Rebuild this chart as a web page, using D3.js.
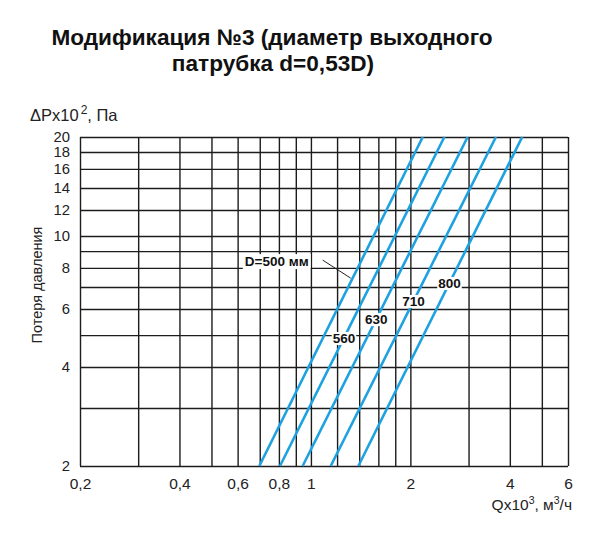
<!DOCTYPE html>
<html>
<head>
<meta charset="utf-8">
<script src="https://cdn.jsdelivr.net/npm/d3@7"></script>
<style>
  body { margin: 0; background: #fff; }
  svg { font-family: "Liberation Sans", Arial, sans-serif; }
</style>
</head>
<body>
<svg id="chart" width="600" height="539"></svg>
<script>
// grid and tick values (log-log)
var xGrid = [0.2, 0.3, 0.4, 0.5, 0.6, 0.7, 0.8, 0.9, 1, 1.2, 1.4, 1.6, 1.8, 2, 3, 4, 5, 6];
var xLabels = [0.2, 0.4, 0.6, 0.8, 1, 2, 4, 6];
var yGrid = [2, 3, 4, 5, 6, 7, 8, 9, 10, 12, 14, 16, 18, 20];
var yLabels = [2, 4, 6, 8, 10, 12, 14, 16, 18, 20];

// curves: flow (x10^3 m3/h) at dP = 2 and dP = 20 (x10^2 Pa)
var diameters = ['500', '560', '630', '710', '800'];
var qAtLow = [0.698, 0.806, 0.944, 1.148, 1.392];
var qAtHigh = [2.18, 2.534, 2.98, 3.63, 4.36];
var pLow = 2, pHigh = 20;

// dP at which each curve label sits
var labelP = [7.45, 4.9, 5.59, 6.35, 7.2];

var svg = d3.select('#chart');
var plotL = 80, plotR = 568, plotT = 137, plotB = 466;

var x = d3.scaleLog().domain([0.2, 6]).range([plotL, plotR]);
var y = d3.scaleLog().domain([2, 20]).range([plotB, plotT]);

var fmt = function (v) { return String(v).replace('.', ','); };

// title
var title = svg.append('text')
    .attr('text-anchor', 'middle')
    .attr('font-weight', 'bold')
    .attr('font-size', 22.6)
    .attr('fill', '#111');
title.append('tspan').attr('x', 272).attr('y', 45).text('Модификация №3 (диаметр выходного');
title.append('tspan').attr('x', 273).attr('y', 71).text('патрубка d=0,53D)');

// grid via axes
var xAxis = svg.append('g')
    .attr('transform', 'translate(0,' + plotB + ')')
    .call(d3.axisBottom(x)
        .tickValues(xGrid)
        .tickSize(-(plotB - plotT))
        .tickPadding(12)
        .tickFormat(function (d) { return xLabels.indexOf(d) >= 0 ? fmt(d) : ''; }));

var yAxis = svg.append('g')
    .attr('transform', 'translate(' + plotL + ',0)')
    .call(d3.axisLeft(y)
        .tickValues(yGrid)
        .tickSize(-(plotR - plotL))
        .tickPadding(10)
        .tickFormat(function (d) { return yLabels.indexOf(d) >= 0 ? fmt(d) : ''; }));

[xAxis, yAxis].forEach(function (g) {
    g.select('.domain').remove();
    g.selectAll('line').attr('stroke', '#1c1c1c').attr('stroke-width', 1.4);
    g.selectAll('text').attr('fill', '#222')
        .attr('font-family', '"Liberation Sans", Arial, sans-serif');
});
xAxis.selectAll('text').attr('font-size', 15.5);
yAxis.selectAll('text').attr('font-size', 14.8);

// curves
var curves = diameters.map(function (d, i) {
    return { name: d, pts: [[qAtLow[i], pLow], [qAtHigh[i], pHigh]] };
});

var line = d3.line()
    .x(function (p) { return x(p[0]); })
    .y(function (p) { return y(p[1]); });

svg.append('g').selectAll('path')
    .data(curves)
    .enter().append('path')
    .attr('d', function (c) { return line(c.pts); })
    .attr('fill', 'none')
    .attr('stroke', '#1da1e0')
    .attr('stroke-width', 2.6);

// q on curve i for a given dP
function qAt(i, p) {
    var t = Math.log(p / pLow) / Math.log(pHigh / pLow);
    return Math.exp(Math.log(qAtLow[i]) + t * Math.log(qAtHigh[i] / qAtLow[i]));
}

var labels = svg.append('g').attr('font-weight', 'bold').attr('font-size', 13.5).attr('fill', '#111');

curves.forEach(function (c, i) {
    var cx = x(qAt(i, labelP[i]));
    var cy = y(labelP[i]);
    if (i === 0) {
        // leader line to the first curve
        labels.append('line')
            .attr('x1', cx - 30).attr('y1', cy - 18)
            .attr('x2', cx - 2).attr('y2', cy)
            .attr('stroke', '#222').attr('stroke-width', 1);
        var t0 = labels.append('text')
            .attr('x', cx - 44).attr('y', cy - 12)
            .attr('text-anchor', 'end')
            .text('D=' + c.name + ' мм');
        var b0 = t0.node().getBBox();
        labels.insert('rect', 'text')
            .attr('x', b0.x - 2).attr('y', b0.y)
            .attr('width', b0.width + 4).attr('height', b0.height)
            .attr('fill', '#fff');
        return;
    }
    var t = labels.append('text')
        .attr('x', cx).attr('y', cy + 5)
        .attr('text-anchor', 'middle')
        .text(c.name);
    var b = t.node().getBBox();
    labels.insert('rect', 'text')
        .attr('x', b.x - 1).attr('y', b.y + 1)
        .attr('width', b.width + 2).attr('height', b.height - 2)
        .attr('fill', '#fff');
});

// axis titles
var yt = svg.append('text')
    .attr('x', 30).attr('y', 121)
    .attr('font-size', 16.5).attr('fill', '#222');
yt.append('tspan').text('ΔPx10');
yt.append('tspan').attr('font-size', 12).attr('dy', -7).attr('dx', 2).text('2');
yt.append('tspan').attr('dy', 7).text(', Па');

svg.append('text')
    .attr('transform', 'translate(42,285) rotate(-90)')
    .attr('text-anchor', 'middle')
    .attr('font-size', 14.5).attr('fill', '#222')
    .text('Потеря давления');

var xt = svg.append('text')
    .attr('x', 572).attr('y', 510)
    .attr('text-anchor', 'end')
    .attr('font-size', 15.5).attr('fill', '#222');
xt.append('tspan').text('Qx10');
xt.append('tspan').attr('font-size', 10.5).attr('dy', -6).text('3');
xt.append('tspan').attr('dy', 6).text(', м');
xt.append('tspan').attr('font-size', 10.5).attr('dy', -6).text('3');
xt.append('tspan').attr('dy', 6).text('/ч');
</script>
</body>
</html>
